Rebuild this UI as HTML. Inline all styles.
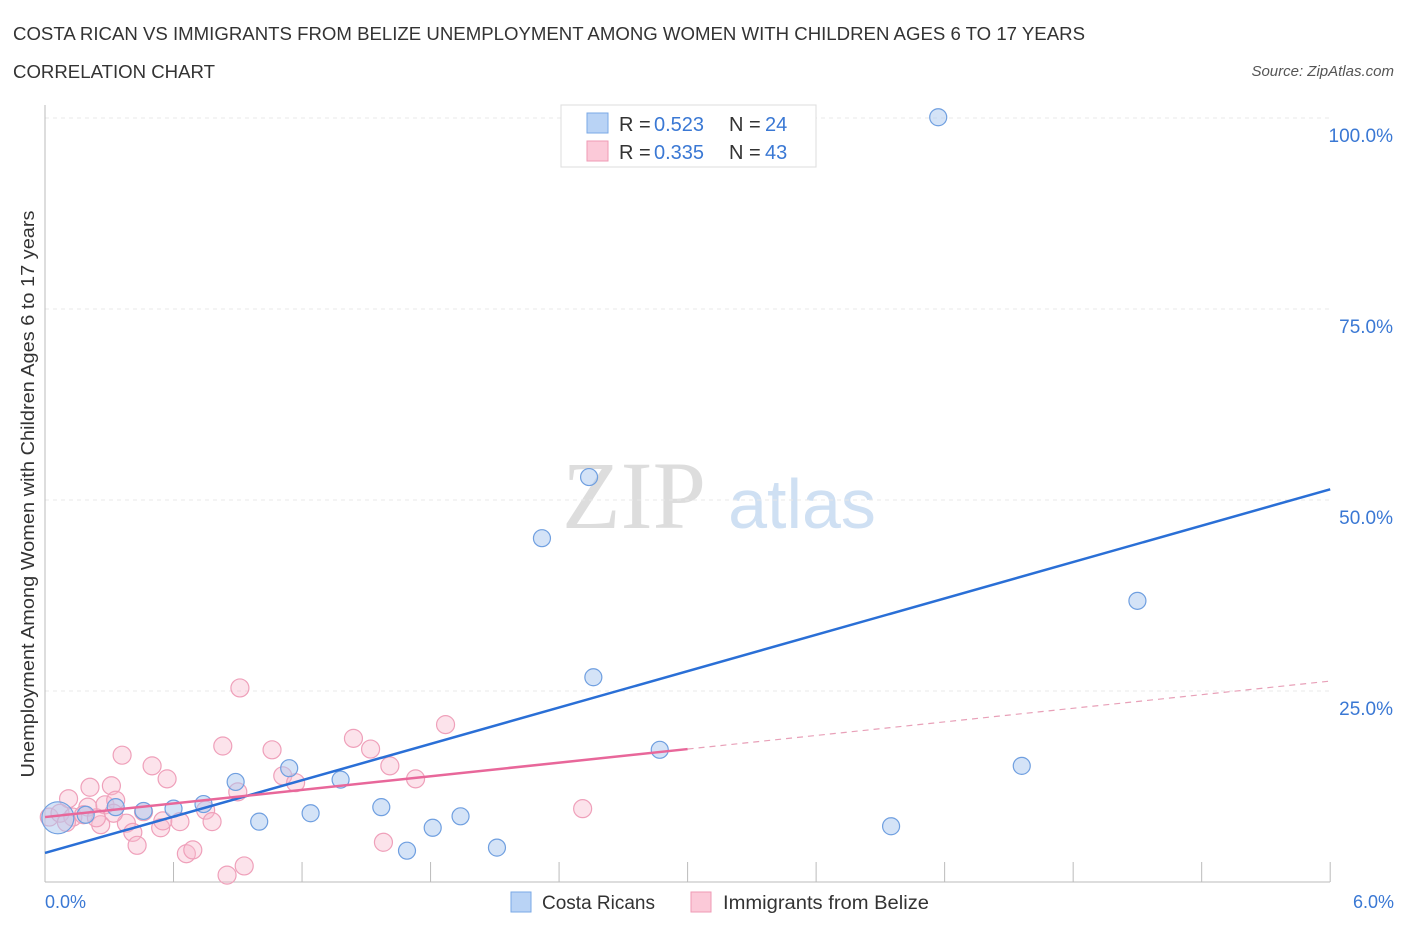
<!DOCTYPE html>
<html><head><meta charset="utf-8"><style>
body{margin:0;background:#fff;font-family:"Liberation Sans",sans-serif;}
svg{display:block}
</style></head><body>
<svg id="chart" width="1406" height="930" xmlns="http://www.w3.org/2000/svg">
<text x="13" y="40" font-size="18" fill="#333" textLength="1072" lengthAdjust="spacingAndGlyphs">COSTA RICAN VS IMMIGRANTS FROM BELIZE UNEMPLOYMENT AMONG WOMEN WITH CHILDREN AGES 6 TO 17 YEARS</text>
<text x="13" y="78" font-size="18" fill="#333" textLength="202" lengthAdjust="spacingAndGlyphs">CORRELATION CHART</text>
<text x="1394" y="76" font-size="15" fill="#555" font-style="italic" text-anchor="end">Source: ZipAtlas.com</text>
<text x="634" y="528" font-size="96" fill="#ddd" font-family="Liberation Serif,serif" text-anchor="middle">ZIP</text>
<text x="802" y="528" font-size="70" fill="#cfe0f3" text-anchor="middle">atlas</text>
<g id="grid"></g><g id="axes"></g><g id="pts"></g><g id="lines"></g>
<text transform="translate(34,494) rotate(-90)" font-size="18" fill="#333" text-anchor="middle" textLength="567" lengthAdjust="spacingAndGlyphs">Unemployment Among Women with Children Ages 6 to 17 years</text>
<text x="45" y="908" font-size="18" fill="#3a78d4">0.0%</text>
<text x="1394" y="908" font-size="18" fill="#3a78d4" text-anchor="end">6.0%</text>
<g>
<rect x="561" y="105" width="255" height="62" fill="#fff" stroke="#ddd"/>
<rect x="587" y="113" width="21" height="20" fill="#b9d3f5" stroke="#7aa8e6"/>
<rect x="587" y="141" width="21" height="20" fill="#fbc9d8" stroke="#ef9ab5"/>
<text x="619" y="131" font-size="20" fill="#333">R = </text><text x="654" y="131" font-size="20" fill="#3a78d4">0.523</text>
<text x="729" y="131" font-size="20" fill="#333">N = </text><text x="765" y="131" font-size="20" fill="#3a78d4">24</text>
<text x="619" y="159" font-size="20" fill="#333">R = </text><text x="654" y="159" font-size="20" fill="#3a78d4">0.335</text>
<text x="729" y="159" font-size="20" fill="#333">N = </text><text x="765" y="159" font-size="20" fill="#3a78d4">43</text>
</g>
<g>
<rect x="511" y="892" width="20" height="20" fill="#b9d3f5" stroke="#7aa8e6"/>
<text x="542" y="909" font-size="19" fill="#333">Costa Ricans</text>
<rect x="691" y="892" width="20" height="20" fill="#fbc9d8" stroke="#ef9ab5"/>
<text x="723" y="909" font-size="19" fill="#333" textLength="206" lengthAdjust="spacingAndGlyphs">Immigrants from Belize</text>
</g>
</svg>
<script>
const blueX=[0.06,0.19,0.33,0.46,0.60,0.74,0.89,1.00,1.14,1.24,1.38,1.57,1.69,1.81,1.94,2.11,2.32,2.54,2.56,2.87,3.95,4.17,4.56,5.10];
const blueY=[8.4,8.8,9.8,9.3,9.6,10.2,13.1,7.9,14.9,9.0,13.4,9.8,4.1,7.1,8.6,4.5,45.0,53.0,26.8,17.3,7.3,100.1,15.2,36.8];
const pinkX=[0.91,0.36,0.21,0.31,0.50,0.57,0.83,1.06,1.44,1.52,1.87,1.61,1.73,1.11,1.17,0.90,0.11,0.20,0.28,0.33,0.75,0.46,0.26,0.38,0.41,0.43,0.54,0.55,0.63,0.78,0.66,0.69,0.85,0.93,1.58,2.51,0.02,0.07,0.13,0.18,0.24,0.10,0.32];
const pinkY=[25.4,16.6,12.4,12.6,15.2,13.5,17.8,17.3,18.8,17.4,20.6,15.2,13.5,13.9,13.0,11.8,10.9,9.8,10.1,10.7,9.4,9.2,7.5,7.7,6.5,4.8,7.1,8.0,7.9,7.9,3.7,4.2,0.9,2.1,5.2,9.6,8.5,9.0,8.5,8.8,8.4,7.8,9.0];
const blueLine=[3.8,51.4];
const pinkLine=[8.5,26.3];
const pinkSolidEnd=3.0;
const xTicks=[0,0.6,1.2,1.8,2.4,3.0,3.6,4.2,4.8,5.4,6.0];
const yTicks=[25,50,75,100];
const yTickLabels=["25.0%","50.0%","75.0%","100.0%"];
const NS="http://www.w3.org/2000/svg";
const sx=v=>45+v*214.2, sy=v=>882-v*7.64;
function mk(tag,attrs,parent){const e=document.createElementNS(NS,tag);for(const k in attrs)e.setAttribute(k,attrs[k]);document.getElementById(parent).appendChild(e);return e;}
yTicks.forEach((t,i)=>{
 const g=mk('line',{x1:45,x2:1330,y1:sy(t),y2:sy(t),stroke:'#e8e8e8','stroke-dasharray':'4,4'},'grid');
 
 
 const l=mk('text',{x:1393,y:sy(t)+24,'font-size':19,fill:'#3a78d4','text-anchor':'end'},'grid');
 l.textContent=yTickLabels[i];
 
 
});
const ax=mk('line',{x1:45,x2:1330,y1:882,y2:882,stroke:'#bbb'},'axes');


const ay=mk('line',{x1:45,x2:45,y1:105,y2:882,stroke:'#bbb'},'axes');


xTicks.forEach(t=>{const e=mk('line',{x1:sx(t),x2:sx(t),y1:862,y2:882,stroke:'#bbb'},'axes');
 
 });
pinkX.forEach((x,i)=>{const c=mk('circle',{cx:sx(x),cy:sy(pinkY[i]),r:9,fill:'rgba(248,185,205,0.4)',stroke:'#efa0ba','stroke-width':1.2},'pts');
 
 });
blueX.forEach((x,i)=>{const c=mk('circle',{cx:sx(x),cy:sy(blueY[i]),r:i===0?16:8.5,fill:'rgba(170,200,240,0.5)',stroke:'#6f9fe0','stroke-width':1.2},'pts');
 
 });
const bl=mk('line',{x1:sx(0),y1:sy(blueLine[0]),x2:sx(6),y2:sy(blueLine[1]),stroke:'#2a6fd6','stroke-width':2.5},'lines');


const pm=pinkLine[0]+(pinkLine[1]-pinkLine[0])*pinkSolidEnd/6;
const pl=mk('line',{x1:sx(0),y1:sy(pinkLine[0]),x2:sx(pinkSolidEnd),y2:sy(pm),stroke:'#e8679a','stroke-width':2.5},'lines');


const pd=mk('line',{x1:sx(pinkSolidEnd),y1:sy(pm),x2:sx(6),y2:sy(pinkLine[1]),stroke:'#e8a0b8','stroke-width':1.2,'stroke-dasharray':'6,5'},'lines');


</script>
</body></html>
